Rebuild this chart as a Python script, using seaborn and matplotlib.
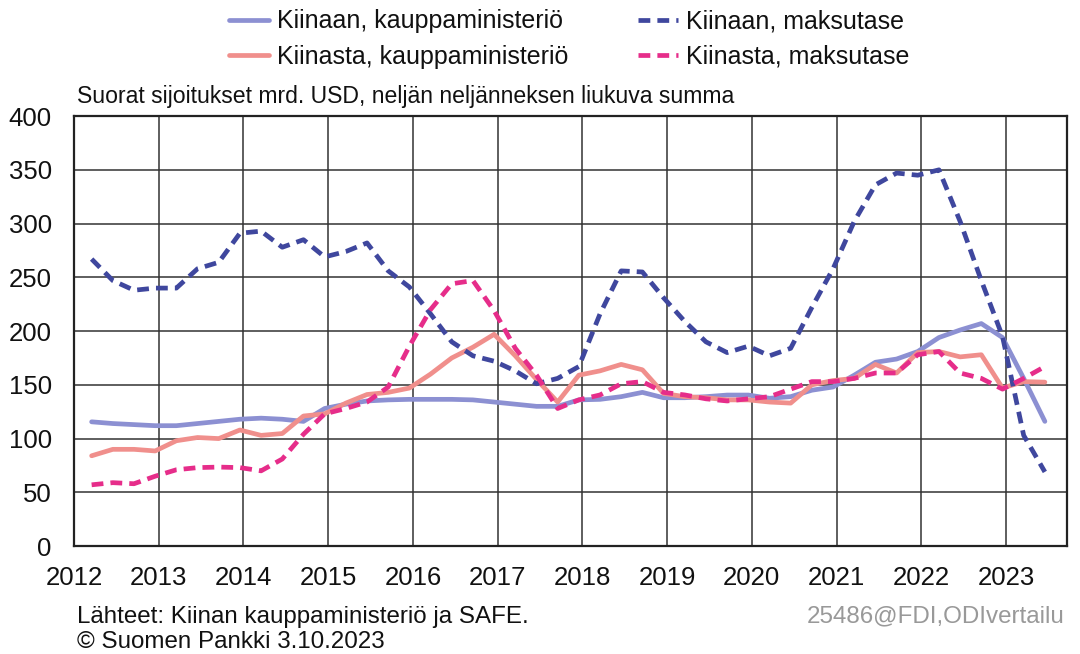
import numpy as np
import pandas as pd
import seaborn as sns
import matplotlib.pyplot as plt

# quarterly data 2012Q1 - 2023Q2, mrd. USD
years = np.repeat(np.arange(2012, 2024), 4)[:46]
quarters = np.tile([1, 2, 3, 4], 12)[:46]

kiinaan_kauppa = [115.6, 114, 113, 112, 112, 114, 116, 118, 119, 118, 116, 128,
                  132, 135, 136, 136.5, 136.5, 136.5, 136, 134, 132, 130, 130, 136,
                  136.5, 139, 143, 138, 138, 139, 140.5, 140.5, 137.5, 139, 145, 148,
                  159, 171, 174, 181, 194, 201, 207, 194, 156, 116]
kiinaan_maksu = [267, 247, 238, 240, 240, 258, 264, 291, 293, 278, 285, 269,
                 274, 282, 256, 241, 216, 190, 177, 172, 163, 151, 156, 167,
                 216, 256, 255, 231, 209, 190, 180, 186, 177, 184, 222, 258,
                 302, 336, 347, 345, 350, 302, 247, 195, 103, 69]
kiinasta_kauppa = [84, 90, 90, 88.5, 98, 101, 100, 108, 103, 104.7, 121, 123,
                   133, 141, 143, 147, 160, 175, 185, 197, 177, 155, 134, 159,
                   163, 169, 164, 142, 139, 138, 136, 136, 134, 133, 150, 154,
                   156, 169, 161, 180, 181, 176, 178, 147, 153, 152.5]
kiinasta_maksu = [57, 59, 58, 65, 71, 73, 73.5, 73, 70, 81, 104, 123,
                  128, 134, 148, 186, 220, 244, 247, 219, 184, 159, 128, 136,
                  140.6, 151, 153, 143, 140.6, 137, 135, 137, 139, 146, 153, 153,
                  156, 161, 161, 178, 181, 161, 156, 146, 156, 167]

labels = ['Kiinaan, kauppaministeriö', 'Kiinasta, kauppaministeriö',
          'Kiinaan, maksutase', 'Kiinasta, maksutase']
series = [kiinaan_kauppa, kiinasta_kauppa, kiinaan_maksu, kiinasta_maksu]
colors = ['#8c90d2', '#f08f8c', '#3f479e', '#e62d8a']
dashed = [False, False, True, True]

x = years + (3 * quarters - 0.5) / 12

sns.set_theme(style='white')
plt.rcParams['font.family'] = ['Liberation Sans', 'DejaVu Sans']

fig = plt.figure(figsize=(10.8, 6.54), dpi=100)
ax = fig.add_axes([0.0685, 0.165, 0.9195, 0.6575])

for i in range(4):
    df = pd.DataFrame({'x': x, 'y': series[i]})
    sns.lineplot(data=df, x='x', y='y', ax=ax, color=colors[i], linewidth=3.4,
                 label=labels[i], solid_capstyle='round')
    line = ax.lines[-1]
    if dashed[i]:
        line.set_dashes((2.5, 1.5))
        line.set_dash_capstyle('butt')

ax.set_xlim(2012, 2023.72)
ax.set_ylim(0, 400)
ax.set_xticks(range(2012, 2024))
ax.set_yticks(range(0, 401, 50))
ax.grid(True, color='#333333', linewidth=1.1)
ax.set_axisbelow(True)
for s in ax.spines.values():
    s.set_color('#222222')
    s.set_linewidth(1.6)
ax.tick_params(axis='both', length=0, labelsize=18.5, colors='#111111')
ax.tick_params(axis='x', pad=14)
ax.tick_params(axis='y', pad=16)
ax.set_xlabel('')
ax.set_ylabel('')

ax.legend_.remove()
handles, lbls = ax.get_legend_handles_labels()
fig.legend(handles, lbls, ncol=2, loc='upper center', bbox_to_anchor=(0.527, 1.02),
           frameon=False, fontsize=18, handlelength=1.6, handletextpad=0.3,
           columnspacing=2.8, labelspacing=0.45, labelcolor='#111111')

fig.text(0.071, 0.835, 'Suorat sijoitukset mrd. USD, neljän neljänneksen liukuva summa',
         fontsize=16.6, ha='left', va='bottom', color='#111111')
fig.text(0.071, 0.057, 'Lähteet: Kiinan kauppaministeriö ja SAFE.', fontsize=17.4,
         ha='left', va='center', color='#111111')
fig.text(0.071, 0.019, '© Suomen Pankki 3.10.2023', fontsize=17.4, ha='left',
         va='center', color='#111111')
fig.text(0.986, 0.057, '25486@FDI,ODIvertailu', fontsize=17.4, ha='right',
         va='center', color='#999999')

fig.savefig('out.png', dpi=100)
